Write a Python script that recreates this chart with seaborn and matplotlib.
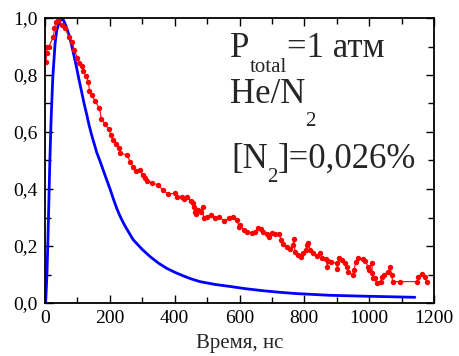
import matplotlib
matplotlib.use("Agg")
import matplotlib.pyplot as plt
import seaborn as sns
import pandas as pd
from matplotlib.ticker import MultipleLocator, FuncFormatter

# Experimental points (red)
exp_t = [3, 5, 7, 12, 26, 29, 34, 41, 51, 62, 74, 84, 90, 100, 106, 113, 118, 126,
         134, 137, 144, 154, 168, 174, 185, 196, 203, 209, 219, 229, 231, 254, 262,
         272, 281, 293, 301, 308, 314, 329, 350, 363, 380, 401, 406, 422, 429, 437,
         450, 456, 460, 463, 466, 473, 480, 486, 490, 499, 512, 524, 538, 552, 569,
         579, 591, 599, 602, 614, 624, 638, 648, 658, 665, 672, 686, 692, 699, 710,
         723, 728, 735, 747, 756, 764, 768, 771, 781, 789, 797, 805, 807, 812, 817,
         828, 838, 848, 854, 867, 871, 874, 881, 900, 902, 908, 915, 925, 932, 936,
         949, 953, 959, 967, 980, 987, 997, 1000, 1008, 1010, 1013, 1018, 1023, 1036,
         1039, 1046, 1059, 1064, 1070, 1072, 1095, 1149, 1150, 1162, 1172, 1177]
exp_y = [0.847, 0.876, 0.897, 0.900, 0.934, 0.964, 0.987, 0.993, 0.975, 0.964, 0.934,
         0.915, 0.888, 0.861, 0.843, 0.832, 0.814, 0.796, 0.777, 0.745, 0.730, 0.709,
         0.683, 0.645, 0.628, 0.610, 0.589, 0.572, 0.558, 0.543, 0.527, 0.519, 0.496,
         0.478, 0.464, 0.467, 0.449, 0.438, 0.428, 0.422, 0.414, 0.396, 0.382, 0.385,
         0.373, 0.371, 0.364, 0.371, 0.359, 0.352, 0.336, 0.320, 0.312, 0.326, 0.320,
         0.336, 0.297, 0.301, 0.309, 0.297, 0.301, 0.289, 0.297, 0.303, 0.291, 0.268,
         0.274, 0.256, 0.250, 0.245, 0.250, 0.262, 0.259, 0.250, 0.242, 0.233, 0.245,
         0.242, 0.242, 0.221, 0.207, 0.198, 0.188, 0.204, 0.223, 0.180, 0.168, 0.160,
         0.176, 0.186, 0.204, 0.212, 0.186, 0.174, 0.165, 0.176, 0.157, 0.153, 0.125,
         0.148, 0.145, 0.139, 0.118, 0.157, 0.151, 0.139, 0.125, 0.110, 0.098, 0.116,
         0.145, 0.157, 0.153, 0.148, 0.127, 0.116, 0.141, 0.104, 0.087, 0.087, 0.069,
         0.075, 0.092, 0.098, 0.110, 0.125, 0.098, 0.075, 0.075, 0.075, 0.092, 0.102,
         0.090, 0.075]

# Model curve (blue)
mod_t = [2, 4, 6, 9, 12, 15, 19, 24, 31, 36, 41, 45, 51, 55, 60, 67, 75, 82, 90, 98,
         105, 113, 120, 129, 136, 144, 152, 159, 170, 180, 190, 200, 210, 221, 231,
         240, 250, 272, 300, 324, 350, 375, 400, 427, 450, 478, 525, 571, 620, 673,
         720, 776, 879, 982, 1141]
mod_y = [0.0, 0.05, 0.10, 0.22, 0.36, 0.50, 0.65, 0.79, 0.91, 0.955, 0.975, 0.987,
         0.996, 0.997, 0.985, 0.964, 0.937, 0.905, 0.865, 0.823, 0.783, 0.741, 0.703,
         0.660, 0.624, 0.589, 0.558, 0.530, 0.497, 0.465, 0.433, 0.402, 0.368, 0.333,
         0.306, 0.285, 0.264, 0.222, 0.188, 0.163, 0.140, 0.122, 0.108, 0.095, 0.085,
         0.075, 0.065, 0.058, 0.050, 0.043, 0.038, 0.033, 0.027, 0.024, 0.020]

x_ticks = [0, 200, 400, 600, 800, 1000, 1200]
y_ticks = [0.0, 0.2, 0.4, 0.6, 0.8, 1.0]

sns.set_style("ticks")
plt.rcParams['font.family'] = ['Liberation Serif', 'DejaVu Serif']

W, H = 460, 356
fig = plt.figure(figsize=(W / 100, H / 100), dpi=100)
ax = fig.add_axes([45 / W, 1 - 303 / H, 389 / W, 285 / H])

df_exp = pd.DataFrame({"t": exp_t, "y": exp_y})
df_mod = pd.DataFrame({"t": mod_t, "y": mod_y})

sns.lineplot(data=df_mod, x="t", y="y", ax=ax, color="#0000ff", lw=2.0,
             sort=False, estimator=None)
sns.lineplot(data=df_exp, x="t", y="y", ax=ax, color="#ff0000", lw=0.8,
             marker="o", markersize=3.9, markeredgewidth=0, sort=False, estimator=None)

ax.set_xlim(0, 1200)
ax.set_ylim(0, 1.0)
ax.set_xticks(x_ticks)
ax.set_yticks(y_ticks)
ax.xaxis.set_minor_locator(MultipleLocator(100))
ax.yaxis.set_minor_locator(MultipleLocator(0.1))
ax.yaxis.set_major_formatter(FuncFormatter(lambda v, p: f"{v:.1f}".replace(".", ",")))
ax.tick_params(which="both", direction="in", top=True, right=True, labelsize=14,
               width=1.0, colors="black", pad=5)
ax.tick_params(which="major", length=6)
ax.tick_params(which="minor", length=4)
for s in ax.spines.values():
    s.set_visible(True)
    s.set_linewidth(1.3)
    s.set_color("black")

ax.set_xlabel("Время, нс", fontsize=15, labelpad=5)
ax.set_ylabel("")

# Annotation block built from pieces (Origin-style low subscripts)
renderer = fig.canvas.get_renderer()
MAIN, SUB = 25, 15


def put(x_px, base_px, s, size):
    t = fig.text(x_px / W, 1 - base_px / H, s, fontsize=size, ha="left", va="baseline")
    return t, t.get_window_extent(renderer).x1


_, x = put(230, 57, "P", MAIN)
_, x = put(x, 72, "total", SUB)
put(x, 57, "=1 атм", MAIN)

_, x = put(230, 103, "He/N", MAIN)
put(x, 126, "2", SUB)

_, x = put(231, 168, "[N", MAIN)
_, x = put(x, 182, "2", SUB)
put(x, 168, "]=0,026%", MAIN)

fig.savefig("out.png", dpi=100)
